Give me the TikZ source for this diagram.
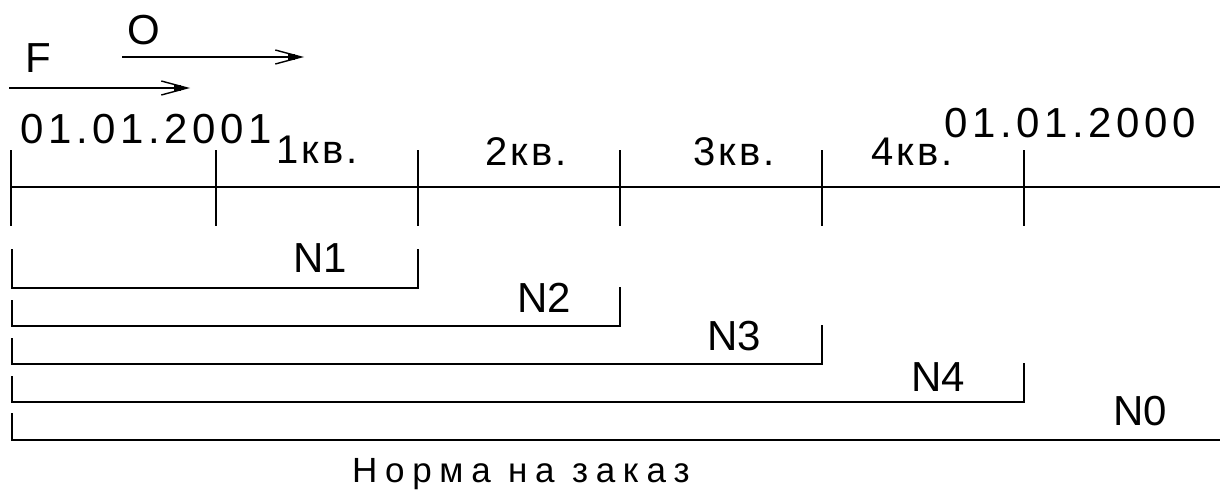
\documentclass[tikz,border=0pt]{standalone}
\usepackage{fontspec}
\setmainfont{Liberation Sans}
\newfontfamily\datefont[LetterSpace=11]{Liberation Sans}
\newfontfamily\qfont[LetterSpace=8]{Liberation Sans}
\newfontfamily\plainfont{Liberation Sans}
\newfontfamily\capfont[LetterSpace=22]{Liberation Sans}
\usetikzlibrary{arrows.meta}
\begin{document}
\begin{tikzpicture}[x=1pt,y=-1pt,
  rule/.style={line width=2.2pt, line cap=butt, line join=miter},
  flow/.style={rule, line width=1.8pt, -{Straight Barb[length=26pt,width=14pt,line width=1.4pt]}},
  lbl/.style={anchor=base west, inner sep=0pt, font=\plainfont\fontsize{42}{42}\selectfont},
  datelbl/.style={lbl, font=\datefont\fontsize{42}{42}\selectfont},
  qlbl/.style={lbl, font=\qfont\fontsize{40}{40}\selectfont},
  caplbl/.style={lbl, font=\capfont\fontsize{35}{35}\selectfont}]
\useasboundingbox (0,0) rectangle (1220,492);

% direction arrows
\node[lbl] (F) at (25,73) {F};
\node[lbl] (O) at (127,45) {O};
\coordinate (fa) at (9,88);
\coordinate (fb) at (190,88);
\coordinate (oa) at (122,57);
\coordinate (ob) at (304,57);
\draw[flow] (fa) -- (fb);
\draw[flow] (oa) -- (ob);
\fill (fb) ++(-16,-3) rectangle ++(7,6);
\fill (ob) ++(-16,-3) rectangle ++(7,6);

% time axis with quarter ticks
\coordinate (ax0) at (11,187);
\coordinate (ax1) at (1220,187);
\draw[rule] (ax0) -- (ax1);
\foreach \x [count=\i from 0] in {11,216,418,620,822,1024}{
  \coordinate (tt\i) at (\x,150);
  \coordinate (tb\i) at (\x,226);
  \draw[rule] (tt\i) -- (tb\i);
}

\node[datelbl] (d2001) at (20,143) {01.01.2001};
\node[datelbl] (d2000) at (944,137) {01.01.2000};
\node[qlbl] (q1) at (276,163) {1кв.};
\node[qlbl] (q2) at (485,165) {2кв.};
\node[qlbl] (q3) at (693,165) {3кв.};
\node[qlbl] (q4) at (871,165) {4кв.};

% cumulative intervals
\coordinate (a1) at (12,249); \coordinate (b1) at (12,288);
\coordinate (c1) at (418,288); \coordinate (e1) at (418,249);
\coordinate (a2) at (12,300); \coordinate (b2) at (12,326);
\coordinate (c2) at (620,326); \coordinate (e2) at (620,287);
\coordinate (a3) at (12,338); \coordinate (b3) at (12,364);
\coordinate (c3) at (822,364); \coordinate (e3) at (822,325);
\coordinate (a4) at (12,376); \coordinate (b4) at (12,402);
\coordinate (c4) at (1024,402); \coordinate (e4) at (1024,363);
\coordinate (a0) at (12,413); \coordinate (b0) at (12,440);
\coordinate (c0) at (1220,440);
\draw[rule] (a1) -- (b1) -- (c1) -- (e1);
\draw[rule] (a2) -- (b2) -- (c2) -- (e2);
\draw[rule] (a3) -- (b3) -- (c3) -- (e3);
\draw[rule] (a4) -- (b4) -- (c4) -- (e4);
\draw[rule] (a0) -- (b0) -- (c0);

\node[lbl] (N1) at (293,272) {N1};
\node[lbl] (N2) at (517,312) {N2};
\node[lbl] (N3) at (707,350) {N3};
\node[lbl] (N4) at (911,391) {N4};
\node[lbl] (N0) at (1113,425) {N0};

\node[caplbl] (cap) at (352,482) {Норма на заказ};
\end{tikzpicture}
\end{document}
